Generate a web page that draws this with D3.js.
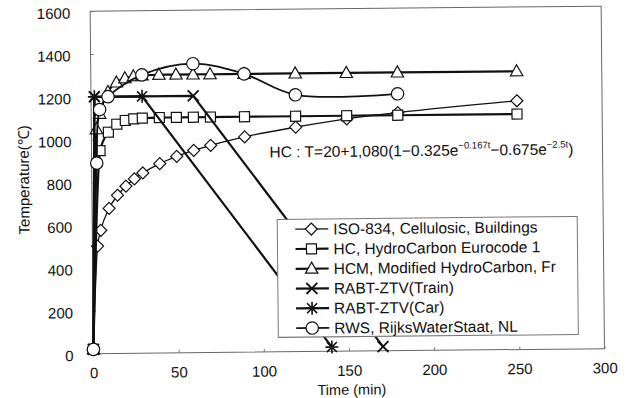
<!DOCTYPE html>
<html><head><meta charset="utf-8">
<script src="https://cdn.jsdelivr.net/npm/d3@7/dist/d3.min.js"></script>
<style>
body{margin:0;background:#fff}
svg{display:block}
text{font-family:"Liberation Sans",Arial,sans-serif;fill:#111}
</style>
</head><body>
<svg id="chart" width="632" height="398"></svg>
<script>
// ---- data ----
const xTickValues = [0, 50, 100, 150, 200, 250, 300];
const yTickValues = [0, 200, 400, 600, 800, 1000, 1200, 1400, 1600];
const seriesNames = [
  "ISO-834, Cellulosic, Buildings",
  "HC, HydroCarbon Eurocode 1",
  "HCM, Modified HydroCarbon, Fr",
  "RABT-ZTV(Train)",
  "RABT-ZTV(Car)",
  "RWS, RijksWaterStaat, NL"
];
const isoTime  = [0, 3, 5, 10, 15, 20, 25, 30, 40, 50, 60, 70, 90, 120, 150, 180, 250];
const isoTemp  = [20, 502, 576, 678, 739, 781, 815, 842, 885, 918, 945, 968, 1006, 1049, 1085, 1112, 1162];
const hcTime   = [0, 5, 10, 15, 20, 25, 30, 40, 50, 60, 70, 90, 120, 150, 180, 250];
const hcTemp   = [20, 948, 1034, 1071, 1088, 1095, 1098, 1100, 1100, 1100, 1100, 1100, 1100, 1100, 1100, 1100];
const hcmTime  = [0, 3, 5, 10, 15, 20, 25, 30, 40, 50, 60, 70, 90, 120, 150, 180, 250];
const hcmTemp  = [20, 1048, 1120, 1222, 1266, 1285, 1294, 1297, 1300, 1300, 1300, 1300, 1300, 1300, 1300, 1300, 1300];
const trainTime = [0, 2, 60, 170];
const trainTemp = [20, 1200, 1200, 20];
const carTime   = [0, 2, 30, 140];
const carTemp   = [20, 1200, 1200, 20];
const rwsTime  = [0, 3, 5, 10, 30, 60, 90, 120, 180];
const rwsTemp  = [20, 890, 1140, 1200, 1300, 1350, 1300, 1200, 1200];
const formulaText = ["HC : T=20+1,080(1\u22120.325e", "\u22120.167t", "\u22120.675e", "\u22122.5t", ")"];

// ---- chart ----
const svg = d3.select("#chart");
const root = svg.append("g").attr("transform", "rotate(-0.56,316,199)");
const x = d3.scaleLinear().domain([0, 300]).range([92, 603]);
const y = d3.scaleLinear().domain([0, 1600]).range([351.5, 9]);

root.append("rect")
  .attr("x", x(0)).attr("y", y(1600))
  .attr("width", x(300) - x(0)).attr("height", y(0) - y(1600))
  .attr("fill", "none").attr("stroke", "#666").attr("stroke-width", 1);

const xAxis = root.append("g").attr("transform", `translate(0,${y(0)})`)
  .call(d3.axisBottom(x).tickValues(xTickValues).tickSize(-3).tickPadding(14).tickFormat(d3.format("d")));
const yAxis = root.append("g").attr("transform", `translate(${x(0)},0)`)
  .call(d3.axisLeft(y).tickValues(yTickValues).tickSize(-3).tickPadding(20).tickFormat(d3.format("d")));
[xAxis, yAxis].forEach(a => {
  a.select(".domain").remove();
  a.selectAll(".tick line").attr("stroke", "#777");
  a.selectAll("text").attr("font-size", 15).attr("fill", "#111")
    .attr("font-family", '"Liberation Sans",Arial,sans-serif');
});
yAxis.selectAll("text").attr("dy", "0.45em");

// markers
function marker(sel, type) {
  const s = sel.append("g");
  if (type === "diamond") s.append("path").attr("d", "M0,-6L6,0L0,6L-6,0Z");
  if (type === "square") s.append("rect").attr("x", -5).attr("y", -5).attr("width", 10).attr("height", 10);
  if (type === "triangle") s.append("path").attr("d", "M0,-6.5L6.2,4.5L-6.2,4.5Z");
  if (type === "circle") s.append("circle").attr("r", 6.2);
  if (type === "x") s.append("path").attr("d", "M-5.5,-5.5L5.5,5.5M-5.5,5.5L5.5,-5.5").attr("stroke-width", 1.8);
  if (type === "star") s.append("path").attr("d", "M-5,-5L5,5M-5,5L5,-5M0,-6.5L0,6.5M-6.5,0L6.5,0").attr("stroke-width", 1.6);
  s.selectAll("*").attr("fill", "#fff").attr("stroke", "#111");
  s.selectAll("path").filter(function(){return type==="x"||type==="star";}).attr("fill", "none");
  if (type !== "x" && type !== "star") s.selectAll("*").attr("stroke-width", 1.2);
  return s;
}

const series = [
  {name: seriesNames[0], t: isoTime, v: isoTemp, m: "diamond", w: 1.3, curve: d3.curveMonotoneX},
  {name: seriesNames[1], t: hcTime, v: hcTemp, m: "square", w: 2.2, curve: d3.curveMonotoneX},
  {name: seriesNames[2], t: hcmTime, v: hcmTemp, m: "triangle", w: 2.2, curve: d3.curveMonotoneX},
  {name: seriesNames[3], t: trainTime, v: trainTemp, m: "x", w: 2.2, curve: d3.curveLinear},
  {name: seriesNames[4], t: carTime, v: carTemp, m: "star", w: 2.2, curve: d3.curveLinear},
  {name: seriesNames[5], t: rwsTime, v: rwsTemp, m: "circle", w: 1.8, curve: d3.curveCatmullRom}
];

series.forEach(s => {
  const pts = s.t.map((t, i) => [t, s.v[i]]);
  const line = d3.line().x(d => x(d[0])).y(d => y(d[1])).curve(s.curve);
  root.append("path").attr("d", line(pts)).attr("fill", "none")
    .attr("stroke", "#111").attr("stroke-width", s.w);
  pts.forEach(p => marker(root, s.m).attr("transform", `translate(${x(p[0])},${y(p[1])})`));
});

// legend
const lg = root.append("g");
lg.append("rect").attr("x", 277).attr("y", 219).attr("width", 300).attr("height", 118)
  .attr("fill", "#fff").attr("stroke", "#777").attr("stroke-width", 1);
series.forEach((s, i) => {
  const yy = 229 + i * 19.8;
  lg.append("line").attr("x1", 295).attr("x2", 328).attr("y1", yy).attr("y2", yy)
    .attr("stroke", "#111").attr("stroke-width", s.w);
  marker(lg, s.m).attr("transform", `translate(311,${yy})`);
  lg.append("text").attr("x", 333).attr("y", yy).attr("dy", "0.36em")
    .attr("font-size", 15.5).text(s.name);
});

// formula
const ft = root.append("text").attr("x", 270).attr("y", 157).attr("font-size", 15.5);
ft.append("tspan").text(formulaText[0]);
ft.append("tspan").attr("dy", -7).attr("font-size", 9.5).text(formulaText[1]);
ft.append("tspan").attr("dy", 7).text(formulaText[2]);
ft.append("tspan").attr("dy", -7).attr("font-size", 9.5).text(formulaText[3]);
ft.append("tspan").attr("dy", 7).text(formulaText[4]);

// axis titles
root.append("text").attr("transform", "translate(24,177) rotate(-90)")
  .attr("text-anchor", "middle").attr("dy", "0.35em").attr("font-size", 15).text("Temperature(\u2103)");
root.append("text").attr("x", 350).attr("y", 395).attr("text-anchor", "middle")
  .attr("font-size", 14.5).text("Time (min)");
</script>
</body></html>
